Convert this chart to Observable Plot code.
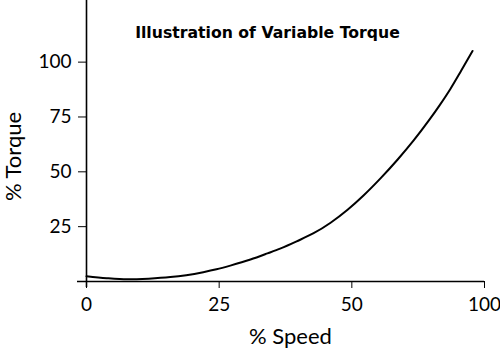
<!DOCTYPE html>
<html><head><meta charset="utf-8">
<script src="https://cdn.jsdelivr.net/npm/d3@7"></script>
<script src="https://cdn.jsdelivr.net/npm/@observablehq/plot@0.6"></script>
<style>body{margin:0;background:#fff} svg{display:block}</style>
</head><body><div id="chart"></div>
<script>
const speed  = [0, 3.8, 7.7, 11.7, 15.8, 18.8, 22, 24.5, 27.1, 30.9, 34.1, 36.6, 39.6, 42.8, 46, 49.2, 54.4, 60.8, 67.2, 73.3, 78.9, 83, 87.2, 91.3, 95.5];
const torque = [2.4, 1.5, 1.0, 1.3, 2.0, 2.9, 4.26, 5.56, 7.24, 10.0, 12.8, 15.1, 18.3, 22.0, 26.8, 32.7, 39.2, 47.0, 55.5, 64.3, 73.2, 80.2, 87.9, 96.3, 105.1];
const xTicks = [0, 25, 50, 100];
const yTicks = [0, 25, 50, 75, 100];
const yTickLabels = ["", "25", "50", "75", "100"];
const title = "Illustration of Variable Torque";
const xLabel = "% Speed";
const yLabel = "% Torque";

const data = speed.map((s, i) => ({speed: s, torque: torque[i]}));

const chart = Plot.plot({
  width: 500, height: 351,
  marginTop: 0, marginBottom: 70, marginLeft: 86, marginRight: 16,
  style: {fontFamily: "Lato, sans-serif", fontSize: "19px", background: "#fff", color: "#000"},
  x: {type: "linear", domain: xTicks, ticks: xTicks, tickSize: 7, tickPadding: 9, label: null},
  y: {type: "linear", domain: [0, 128.1], ticks: yTicks, tickSize: 8, tickPadding: 7, label: null,
      tickFormat: d => yTickLabels[yTicks.indexOf(d)]},
  marks: [
    Plot.ruleX([0], {insetBottom: -6, strokeWidth: 1.6}),
    Plot.ruleY([0], {insetLeft: -9, strokeWidth: 1.6}),
    Plot.line(data, {x: "speed", y: "torque", curve: "monotone-x", stroke: "#000", strokeWidth: 2}),
    Plot.text([title], {frameAnchor: "top", textAnchor: "middle", lineAnchor: "middle", dx: -18, dy: 32, fontFamily: "DejaVu Sans", fontWeight: "bold", fontSize: 15.7}),
    Plot.text([xLabel], {frameAnchor: "bottom", textAnchor: "middle", lineAnchor: "middle", dx: 5, dy: 55, fontSize: 22}),
    Plot.text([yLabel], {frameAnchor: "left", textAnchor: "middle", lineAnchor: "middle", dx: -73, dy: 15.5, rotate: -90, fontSize: 22})
  ]
});
document.getElementById("chart").append(chart);
</script>
</body></html>
